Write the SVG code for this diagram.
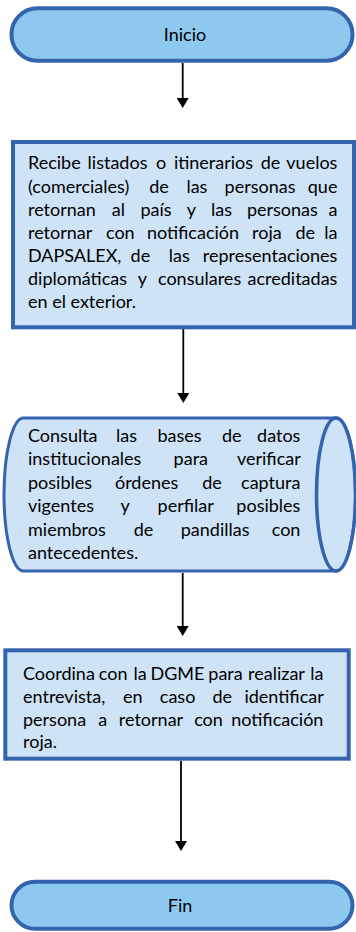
<svg xmlns="http://www.w3.org/2000/svg" width="356" height="932" viewBox="0 0 356 932">
<style>
.term{fill:#8DC9EE;stroke:#3464AD;stroke-width:4}
.box{fill:#CEE3F6;stroke:#3464AD;stroke-width:4}
.cyl{fill:#CEE3F6;stroke:#3464AD;stroke-width:3}
.t{font-family:Lato,"Liberation Sans",sans-serif;font-size:18px;fill:#000}
.m{text-anchor:middle}
.e{text-anchor:end}
.c{stroke:#000;stroke-width:1.8;fill:none}
</style>
<defs>
<marker id="ah" viewBox="0 0 10 12" refX="5" refY="6" markerWidth="10" markerHeight="12" markerUnits="userSpaceOnUse" orient="auto">
<path d="M0,0 L10,6 L0,12 Z" fill="#000"/>
</marker>
</defs>
<g id="connectors">
<line class="c" x1="182.7" y1="63" x2="182.7" y2="103" marker-end="url(#ah)"/>
<line class="c" x1="183.3" y1="329" x2="183.3" y2="398" marker-end="url(#ah)"/>
<line class="c" x1="182.7" y1="573" x2="182.7" y2="631" marker-end="url(#ah)"/>
<line class="c" x1="181" y1="761" x2="181" y2="846" marker-end="url(#ah)"/>
</g>
<g id="inicio">
<rect class="term" x="11.5" y="8.3" width="341" height="52.5" rx="26"/>
<text class="t m" x="185" y="41">Inicio</text>
</g>
<g id="recibe">
<rect class="box" x="13" y="142" width="341" height="185.3"/>
<text class="t">
<tspan x="28" y="169.3">Recibe</tspan><tspan class="m" x="117.5">listados</tspan><tspan class="m" x="161">o</tspan><tspan class="m" x="213.5">itinerarios</tspan><tspan class="m" x="270.5">de</tspan><tspan class="e" x="342">vuelos</tspan>
<tspan x="28" y="192.5">(comerciales)</tspan><tspan class="m" x="159">de</tspan><tspan class="m" x="196.9">las</tspan><tspan class="m" x="260">personas</tspan><tspan class="e" x="342">que</tspan>
<tspan x="28" y="215.6">retornan</tspan><tspan class="m" x="118.4">al</tspan><tspan class="m" x="156.1">país</tspan><tspan class="m" x="191.3">y</tspan><tspan class="m" x="221.5">las</tspan><tspan class="m" x="282.4">personas</tspan><tspan class="e" x="342">a</tspan>
<tspan x="28" y="238.8">retornar</tspan><tspan class="m" x="120.3">con</tspan><tspan class="m" x="193">notificación</tspan><tspan class="m" x="266.9">roja</tspan><tspan class="m" x="305.2">de</tspan><tspan class="e" x="342">la</tspan>
<tspan x="28" y="262">DAPSALEX,</tspan><tspan class="m" x="140.4">de</tspan><tspan class="m" x="179.2">las</tspan><tspan class="e" x="342">representaciones</tspan>
<tspan x="28" y="285.2">diplomáticas</tspan><tspan class="m" x="142.3">y</tspan><tspan class="m" x="199.6">consulares</tspan><tspan class="e" x="342">acreditadas</tspan>
<tspan x="28" y="308.3">en el exterior.</tspan>
</text>
</g>
<g id="consulta">
<path class="cyl" d="M23.5,418 L336,418 A19.5,76.5 0 0 1 336,571 L23.5,571 A19.5,76.5 0 0 1 23.5,418 Z"/>
<ellipse cx="336" cy="494.5" rx="19.5" ry="76.5" fill="none" stroke="#3464AD" stroke-width="3.5"/>
<text class="t">
<tspan x="28" y="442">Consulta</tspan><tspan class="m" x="126.5">las</tspan><tspan class="m" x="179.5">bases</tspan><tspan class="m" x="231.7">de</tspan><tspan class="e" x="305">datos</tspan>
<tspan x="28" y="465.4">institucionales</tspan><tspan class="m" x="190.8">para</tspan><tspan class="e" x="305">verificar</tspan>
<tspan x="28" y="488.8">posibles</tspan><tspan class="m" x="146.6">órdenes</tspan><tspan class="m" x="212">de</tspan><tspan class="e" x="305">captura</tspan>
<tspan x="28" y="512.2">vigentes</tspan><tspan class="m" x="125.1">y</tspan><tspan class="m" x="185.7">perfilar</tspan><tspan class="e" x="305">posibles</tspan>
<tspan x="28" y="535.6">miembros</tspan><tspan class="m" x="143.5">de</tspan><tspan class="m" x="215.1">pandillas</tspan><tspan class="e" x="305">con</tspan>
<tspan x="28" y="559">antecedentes.</tspan>
</text>
</g>
<g id="coordina">
<rect class="box" x="5.3" y="650.3" width="343.4" height="108.4"/>
<text class="t">
<tspan x="23" y="680">Coordina</tspan><tspan class="m" x="113.2">con</tspan><tspan class="m" x="140">la</tspan><tspan class="m" x="177.5">DGME</tspan><tspan class="m" x="225.5">para</tspan><tspan class="m" x="276.5">realizar</tspan><tspan class="e" x="328">la</tspan>
<tspan x="23" y="702.8">entrevista,</tspan><tspan class="m" x="132.9">en</tspan><tspan class="m" x="177.6">caso</tspan><tspan class="m" x="222.3">de</tspan><tspan class="e" x="328">identificar</tspan>
<tspan x="23" y="725.6">persona</tspan><tspan class="m" x="102.7">a</tspan><tspan class="m" x="151">retornar</tspan><tspan class="m" x="208.5">con</tspan><tspan class="e" x="328">notificación</tspan>
<tspan x="23" y="748.4">roja.</tspan>
</text>
</g>
<g id="fin">
<rect class="term" x="11.5" y="881.7" width="341" height="47" rx="23.5"/>
<text class="t m" x="180" y="911.7">Fin</text>
</g>
</svg>
